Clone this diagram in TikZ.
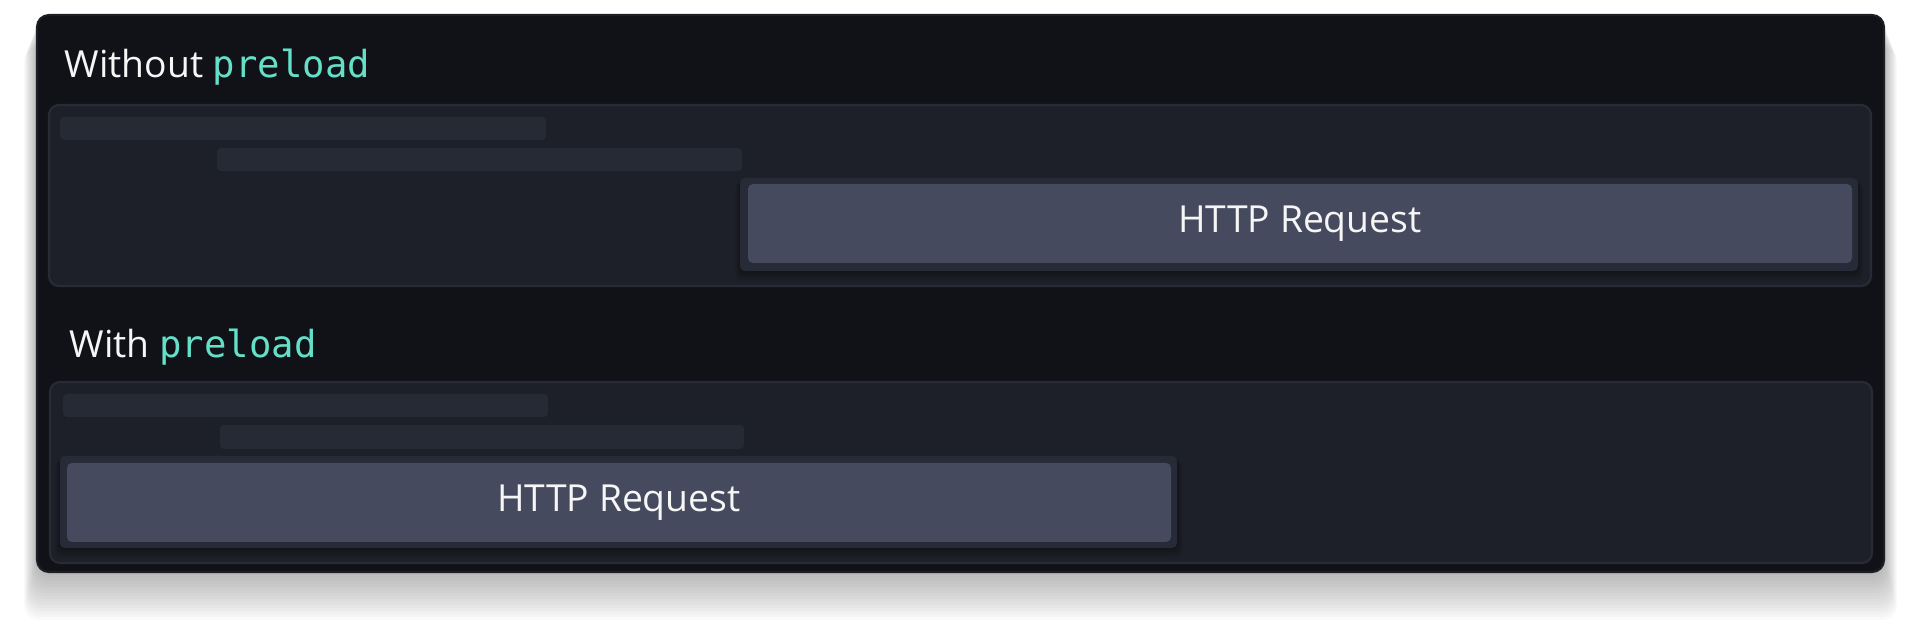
\documentclass[tikz,border=0pt]{standalone}
\usepackage{fontspec}
\setmainfont{Open Sans}
\newfontfamily\codefont{DejaVu Sans Mono}
\definecolor{outerbg}{HTML}{111217}
\definecolor{outerrim}{HTML}{1C1E24}
\definecolor{panelbg}{HTML}{1E2029}
\definecolor{panelrim}{HTML}{282B36}
\definecolor{barbg}{HTML}{262A35}
\definecolor{holderbg}{HTML}{272A37}
\definecolor{reqbg}{HTML}{454A5E}
\definecolor{codegreen}{HTML}{64E0C8}
\definecolor{labeltext}{HTML}{F6F6F6}
\begin{document}
\begin{tikzpicture}[x=0.01cm,y=-0.01cm,
    panel/.style={fill=panelbg,draw=panelrim,line width=0.6pt,rounded corners=2.8pt},
    bar/.style={fill=barbg,rounded corners=1.1pt},
    holder/.style={fill=holderbg,rounded corners=1.4pt},
    req/.style={fill=reqbg,rounded corners=1.4pt},
    lbl/.style={text=labeltext,font=\fontsize{10.6}{12}\selectfont,inner sep=0pt}]
    \useasboundingbox (0,0) rectangle (1920,631);
    \foreach \i in {1,...,16}
        \fill[black,opacity=0.02,rounded corners=4pt] (37-0.8*\i,15+2*\i) rectangle (1884+0.8*\i,572+3*\i);
    \draw[fill=outerbg,draw=outerrim,line width=0.6pt,rounded corners=3.4pt] (37,15) rectangle (1884,572);

    \node[lbl,anchor=base west] (title1) at (64,78) {Without {\codefont\color{codegreen}preload}};
    \draw[panel] (49,105) rectangle (1871,286);
    \fill[bar] (60,117) rectangle (546,140);
    \fill[bar] (217,148) rectangle (742,171);
    \foreach \i in {1,...,5}
        \fill[black,opacity=0.06,rounded corners=2pt] (740-\i,178+\i) rectangle (1858+\i,271+2*\i);
    \fill[holder] (740,178) rectangle (1858,271);
    \fill[req] (748,184) rectangle (1852,263);
    \node[lbl] (req1) at (1300,223.5) {HTTP Request};

    \node[lbl,anchor=base west] (title2) at (69,358) {With {\codefont\color{codegreen}preload}};
    \draw[panel] (50,382) rectangle (1872,563);
    \fill[bar] (63,394) rectangle (548,417);
    \fill[bar] (220,425) rectangle (744,449);
    \foreach \i in {1,...,5}
        \fill[black,opacity=0.06,rounded corners=2pt] (60-\i,456+\i) rectangle (1177+\i,548+2*\i);
    \fill[holder] (60,456) rectangle (1177,548);
    \fill[req] (67,463) rectangle (1171,542);
    \node[lbl] (req2) at (619,502.5) {HTTP Request};
\end{tikzpicture}
\end{document}
